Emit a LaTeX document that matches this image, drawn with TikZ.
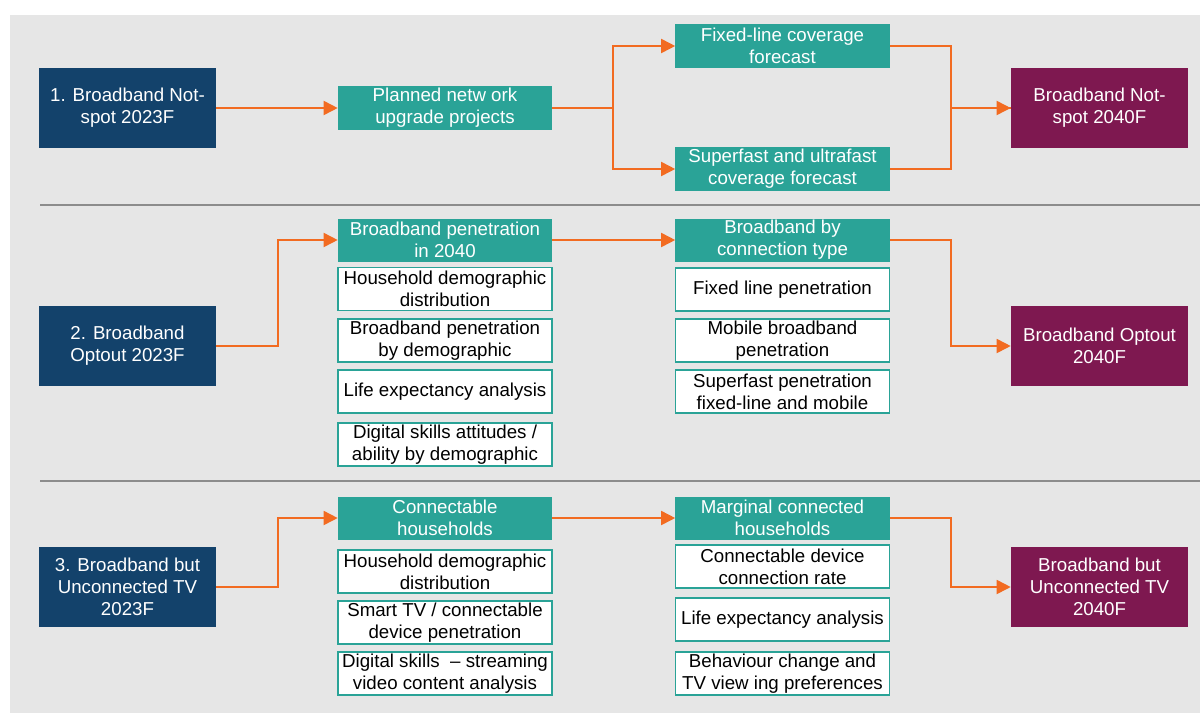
\documentclass[tikz,border=0pt]{standalone}
\usepackage{fontspec}
\setmainfont{Liberation Sans}
\usepackage{tikz}
\usetikzlibrary{arrows.meta}

\definecolor{navy}{HTML}{13426B}
\definecolor{teal2}{HTML}{2AA397}
\definecolor{plum}{HTML}{7E1850}
\definecolor{flowor}{HTML}{F26B21}
\definecolor{panel}{HTML}{E6E6E6}
\definecolor{rule}{HTML}{8C8C8C}

\tikzset{
  txt/.style={font=\fontsize{13.3}{15.6}\selectfont, align=center, inner sep=0pt},
  startbox/.style={txt, fill=navy, text=white, minimum width=4.425cm, minimum height=2cm},
  endbox/.style={txt, fill=plum, text=white, minimum width=4.425cm, minimum height=2cm},
  headbox/.style={txt, fill=teal2, text=white, minimum width=5.35cm, minimum height=1.075cm},
  inbox/.style={txt, fill=white, draw=teal2, line width=1pt, text=black, minimum width=5.35cm, minimum height=1.075cm},
  flow/.style={draw=flowor, line width=1.2pt, -{Triangle[length=10pt,width=10pt]}},
  plain/.style={draw=flowor, line width=1.2pt}
}

\begin{document}
\begin{tikzpicture}[x=0.025cm, y=-0.025cm]

\useasboundingbox (0,0) rectangle (1200,717);
\fill[panel] (10,15) rectangle (1200,713);
\draw[rule, line width=1.4pt] (40,205) -- (1200,205);
\draw[rule, line width=1.4pt] (40,481) -- (1200,481);

% row 1
\node[startbox] (nsA) at (127.5,108) {1. Broadband Not-\\spot 2023F};
\node[headbox] (plan) at (445,108) {Planned netw ork\\upgrade projects};
\node[headbox] (fixcov) at (782.5,46) {Fixed-line coverage\\forecast};
\node[headbox] (sfcov) at (782.5,169) {Superfast and ultrafast\\coverage forecast};
\node[endbox] (nsB) at (1099.5,108) {Broadband Not-\\spot 2040F};

\draw[flow] (nsA) -- (plan);
\draw[flow] (plan.east) -- ++(61,0) |- (fixcov.west);
\draw[flow] (plan.east) -- ++(61,0) |- (sfcov.west);
\draw[plain] (fixcov.east) -- ++(61,0) |- (nsB.west);
\draw[flow] (sfcov.east) -- ++(61,0) |- (nsB.west);

% row 2
\node[startbox] (ooA) at (127.5,346) {2. Broadband\\Optout 2023F};
\node[headbox] (bbpen) at (445,240) {Broadband penetration\\in 2040};
\node[inbox] at (445,289) {Household demographic\\distribution};
\node[inbox] at (445,340.5) {Broadband penetration\\by demographic};
\node[inbox] at (445,391.5) {Life expectancy analysis};
\node[inbox] at (445,444.5) {Digital skills attitudes /\\ability by demographic};
\node[headbox] (ctype) at (782.5,240) {Broadband by\\connection type};
\node[inbox] at (782.5,289.5) {Fixed line penetration};
\node[inbox] at (782.5,340.5) {Mobile broadband\\penetration};
\node[inbox] at (782.5,391.5) {Superfast penetration\\fixed-line and mobile};
\node[endbox] (ooB) at (1099.5,346) {Broadband Optout\\2040F};

\draw[flow] (ooA.east) -- ++(62,0) |- (bbpen.west);
\draw[flow] (bbpen) -- (ctype);
\draw[flow] (ctype.east) -- ++(61,0) |- (ooB.west);

% row 3
\node[startbox] (tvA) at (127.5,587) {3. Broadband but\\Unconnected TV\\2023F};
\node[headbox] (cnhh) at (445,518) {Connectable\\households};
\node[inbox] at (445,571.5) {Household demographic\\distribution};
\node[inbox] at (445,622.5) {Smart TV / connectable\\device penetration};
\node[inbox] at (445,673.5) {Digital skills\ \ – streaming\\video content analysis};
\node[headbox] (mghh) at (782.5,518) {Marginal connected\\households};
\node[inbox] at (782.5,566.5) {Connectable device\\connection rate};
\node[inbox] at (782.5,619.5) {Life expectancy analysis};
\node[inbox] at (782.5,673.5) {Behaviour change and\\TV view ing preferences};
\node[endbox] (tvB) at (1099.5,587) {Broadband but\\Unconnected TV\\2040F};

\draw[flow] (tvA.east) -- ++(62,0) |- (cnhh.west);
\draw[flow] (cnhh) -- (mghh);
\draw[flow] (mghh.east) -- ++(61,0) |- (tvB.west);

\end{tikzpicture}
\end{document}
